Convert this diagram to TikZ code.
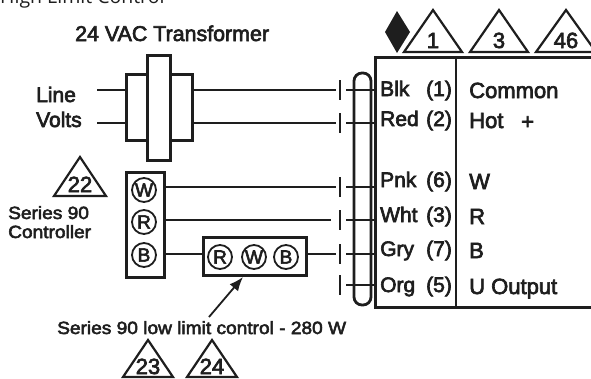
\documentclass[tikz,border=0pt]{standalone}
\usepackage{fontspec}
\setmainfont[FakeBold=3]{Liberation Sans}
\newfontfamily\smallfont[FakeBold=3,FakeStretch=1.08]{Liberation Sans}
\newfontfamily\topfont{Open Sans}
\usetikzlibrary{arrows}
\usetikzlibrary{arrows.meta}
\definecolor{inkc}{HTML}{1E1E1E}
\tikzstyle{wire} = [draw=inkc, line width=2.8pt]
\tikzstyle{boxline} = [draw=inkc, line width=3pt]
\tikzstyle{thinline} = [draw=inkc, line width=2.8pt]
\tikzstyle{lbl} = [text=inkc, inner sep=0pt, anchor=base west, font=\fontsize{21}{21}\selectfont]
\tikzstyle{funlbl} = [text=inkc, inner sep=0pt, anchor=base west, font=\fontsize{22}{22}\selectfont]
\tikzstyle{smalllbl} = [text=inkc, inner sep=0pt, anchor=base west, font=\smallfont\fontsize{17.7}{17.7}\selectfont]
\tikzstyle{termin} = [draw=inkc, line width=1.8pt, circle, minimum size=24pt, inner sep=0pt, text=inkc, font=\fontsize{19}{19}\selectfont]
\tikzstyle{num} = [text=inkc, inner sep=0pt, anchor=base, font=\fontsize{22}{22}\selectfont]

\begin{document}
\begin{tikzpicture}[x=1pt,y=-1pt]
\clip (0,0) rectangle (591,378);
\fill[white] (0,0) rectangle (591,378);

\node[anchor=base west, inner sep=0pt, text=inkc, font=\topfont\fontsize{19.5}{19.5}\selectfont] (toptitle) at (0,3.5) {High Limit Control};
\node[lbl, font=\fontsize{21.4}{21.4}\selectfont] (xfmrlabel) at (75,41) {24 VAC Transformer};
\node[lbl] (linelabel) at (36,102) {Line};
\node[lbl] (voltslabel) at (36,127) {Volts};
\node[smalllbl] (serieslabel) at (8,219) {Series 90};
\node[smalllbl] (ctrllabel) at (8,238) {Controller};
\node[smalllbl] (lowlabel) at (57,334) {Series 90 low limit control - 280 W};

% transformer
\draw[boxline, fill=white] (126,74) rectangle (192,140);
\draw[boxline, fill=white] (147,55) rectangle (170,160);
\coordinate (priup) at (126,90);
\coordinate (pridown) at (126,123);
\coordinate (lineend) at (97,90);
\coordinate (voltsend) at (97,123);
\coordinate (secup) at (192,90);
\coordinate (secdown) at (192,123);

% controller
\draw[boxline] (126,172) rectangle (164,277);
\node[termin] (cw) at (144,190) {W};
\node[termin] (cr) at (144,222) {R};
\node[termin] (cb) at (144,255) {B};
\coordinate (ctrlw) at (164,187);
\coordinate (ctrlr) at (164,220);
\coordinate (ctrlb) at (164,254);

% low limit control
\draw[boxline] (203,237) rectangle (306,275);
\node[termin] (lr) at (220,257) {R};
\node[termin] (lw) at (254,257) {W};
\node[termin] (lb) at (286,257) {B};
\coordinate (lowin) at (203,254);
\coordinate (lowout) at (306,254);
\coordinate (lowtip) at (243,277);
\coordinate (lowtail) at (209,317);

% module
\draw[boxline] (591,57) -- (375,57) -- (375,307) -- (591,307);
\draw[thinline] (456,57) -- (456,307);
\draw[wire, rounded corners=8pt] (354,305) -- (354,73) -- (371,73) -- (371,305) -- cycle;

% wires, each stops short of a break mark
\foreach \wname/\wy/\wstop in {blk/90/336,red/123/336,pnk/187/336,wht/220/331,gry/254/336,org/285/336}{
  \coordinate (\wname stop) at (\wstop,\wy);
  \coordinate (\wname mod) at (375,\wy);
  \coordinate (\wname in) at (346,\wy);
  \draw[thinline] (340,{\wy-10}) -- (340,{\wy+10});
  \draw[thinline] (\wname in) -- (\wname mod);
}

\draw[wire] (lineend) -- (priup);
\draw[wire] (voltsend) -- (pridown);
\draw[wire] (secup) -- (blkstop);
\draw[wire] (secdown) -- (redstop);
\draw[wire] (ctrlw) -- (pnkstop);
\draw[wire] (ctrlr) -- (whtstop);
\draw[wire] (ctrlb) -- (lowin);
\draw[wire] (lowout) -- (grystop);
\draw[-{Latex[length=14pt,width=11pt]}, draw=inkc, fill=inkc, line width=1.8pt] (lowtail) -- (lowtip);

% module text
\foreach \mname/\mcol/\mnum/\mfun/\my in {blk/Blk/1/Common/96,red/Red/2/Hot/126,pnk/Pnk/6/W/187,wht/Wht/3/R/222,gry/Gry/7/B/256,org/Org/5/U Output/292}{
  \node[lbl] (\mname col) at (380,\my) {\mcol};
  \node[lbl] (\mname num) at (426,\my) {(\mnum)};
  \node[funlbl] (\mname fun) at (469,{\my+2}) {\mfun};
}
\node[funlbl] (hotplus) at (521,129) {+};

% triangles
\foreach \tname/\tx/\ty/\thw/\th/\tb/\tnum in {a/433/10/29/42/38/1,b/499/10/29/42/38/3,c/566/10/30/42/38/46,d/80/157/26/39/35/22,e/148/340/25/37/34/23,f/212/340/25/37/34/24}{
  \draw[thinline, line join=miter, line width=2.2pt] (\tx,\ty) -- ({\tx+\thw},{\ty+\th}) -- ({\tx-\thw},{\ty+\th}) -- cycle;
  \node[num] (tri\tname) at (\tx,{\ty+\tb}) {\tnum};
}

\fill[inkc] (397,11) -- (410,32) -- (397,53) -- (385,32) -- cycle;

\end{tikzpicture}
\end{document}
